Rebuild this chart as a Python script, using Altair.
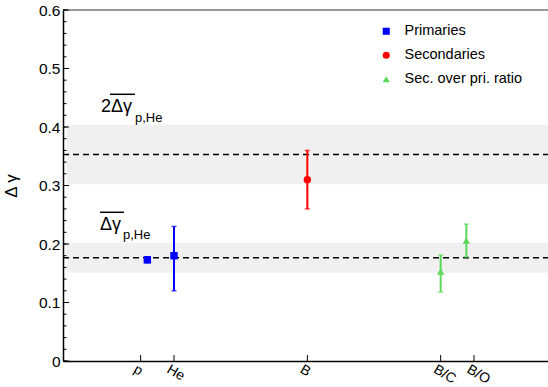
import altair as alt
import pandas as pd

# ---- data ----
categories = ["p", "He", "B", "B/C", "B/O"]
tick_pos = [1, 2, 6, 10, 11]
point_x = [1.2, 2, 6, 10, 10.77]
values = [0.173, 0.180, 0.310, 0.153, 0.206]
err_lo = [0.168, 0.120, 0.260, 0.118, 0.178]
err_hi = [0.178, 0.230, 0.360, 0.181, 0.234]
groups = ["Primaries", "Primaries", "Secondaries",
          "Sec. over pri. ratio", "Sec. over pri. ratio"]

group_names = ["Primaries", "Secondaries", "Sec. over pri. ratio"]
group_colors = ["#0000ff", "#ff0000", "#5cd85c"]
group_shapes = ["square", "circle", "triangle-up"]

band_mid = [0.1766, 0.353]
band_lo = [0.151, 0.302]
band_hi = [0.202, 0.404]
band_x0 = [-1.22, -1.22]
band_x1 = [13.4, 13.4]

y_major = [0, 0.1, 0.2, 0.3, 0.4, 0.5, 0.6]
y_minor = [round(0.02 * i, 2) for i in range(31)]

# annotation labels
main_txt = ["2Δγ", "Δγ"]
main_x = [-0.19, -0.22]
main_y = [0.4256, 0.2239]
sub_txt = ["p,He", "p,He"]
sub_x = [0.83, 0.47]
sub_y = [0.4085, 0.2085]
over_x0 = [0.08, -0.22]
over_x1 = [0.83, 0.50]
over_y = [0.4559, 0.2542]

W, H = 485, 351
FONT = "Liberation Sans"
xs = alt.Scale(domain=[-1.33, 13.22], nice=False, zero=False)
ys = alt.Scale(domain=[0, 0.6], nice=False, zero=False)
col = alt.Scale(domain=group_names, range=group_colors)
shp = alt.Scale(domain=group_names, range=group_shapes)

label_expr = "''"
for p, c in zip(reversed(tick_pos), reversed(categories)):
    label_expr = f"datum.value == {p} ? '{c}' : ({label_expr})"

XAX = alt.Axis(
    values=tick_pos, labelExpr=label_expr, ticks=False, grid=False,
    labelAngle=30, labelAlign="left", labelBaseline="top",
    labelPadding=1, labelOffset=-3, labelFontSize=14, labelFont=FONT,
    labelColor="black", labelOverlap=False,
    domainColor="black", domainWidth=1.5, title=None)
YAX = alt.Axis(
    values=y_major, ticks=False, grid=False,
    labelExpr="datum.value == 0 ? '0' : format(datum.value, '.1f')",
    labelPadding=3, labelFontSize=15.5, labelFont=FONT, labelColor="black",
    domainColor="black", domainWidth=1.5,
    title="Δ γ", titleFont=FONT, titleFontSize=17, titleFontWeight="normal",
    titleColor="black", titlePadding=18)
LEG = alt.Legend(
    title=None, orient="none", legendX=316, legendY=14,
    labelFont=FONT, labelFontSize=14.5, labelColor="black",
    symbolSize=50, symbolStrokeWidth=0, symbolOpacity=1, labelOffset=11,
    rowPadding=9, padding=0)


def X(f):
    return alt.X(f, scale=xs, axis=XAX, title=None)


def Y(f):
    return alt.Y(f, scale=ys, axis=YAX, title="Δ γ")


df = pd.DataFrame({"cat": categories, "px": point_x, "val": values,
                   "lo": err_lo, "hi": err_hi, "grp": groups})
bands = pd.DataFrame({"lo": band_lo, "hi": band_hi, "mid": band_mid,
                      "x0": band_x0, "x1": band_x1})

band_layer = alt.Chart(bands).mark_rect(color="#f0f0f0", clip=True).encode(
    x=X("x0:Q"), x2="x1:Q", y=Y("lo:Q"), y2="hi:Q")

dash_layer = alt.Chart(bands).mark_rule(color="black", strokeDash=[6, 4], strokeWidth=1.5).encode(
    x=alt.value(0), x2=alt.value(W), y=Y("mid:Q"))

frame_top = alt.Chart(pd.DataFrame({"a": [0]})).mark_rule(color="#777777", strokeWidth=1.5).encode(
    x=alt.value(0), x2=alt.value(W), y=alt.value(0))

ymaj = alt.Chart(pd.DataFrame({"v": y_major})).mark_rule(color="black", strokeWidth=1).encode(
    y=Y("v:Q"), x=alt.value(0), x2=alt.value(6))
ymin = alt.Chart(pd.DataFrame({"v": y_minor})).mark_rule(color="black", strokeWidth=1).encode(
    y=Y("v:Q"), x=alt.value(0), x2=alt.value(3.5))
xtk = alt.Chart(pd.DataFrame({"v": tick_pos})).mark_rule(color="black", strokeWidth=1).encode(
    x=X("v:Q"), y=alt.value(H), y2=alt.value(H - 6))

err = alt.Chart(df).mark_rule(strokeWidth=2).encode(
    x=X("px:Q"), y=Y("lo:Q"), y2="hi:Q",
    color=alt.Color("grp:N", scale=col, legend=LEG, sort=group_names),
)
caps = alt.Chart(df).transform_fold(["lo", "hi"], as_=["k", "e"]).mark_tick(
    orient="horizontal", size=5, thickness=1.5).encode(
    x=X("px:Q"), y=Y("e:Q"),
    color=alt.Color("grp:N", scale=col, legend=LEG, sort=group_names),
)
pts = alt.Chart(df).mark_point(filled=True, opacity=1, size=55).encode(
    x=X("px:Q"), y=Y("val:Q"),
    color=alt.Color("grp:N", scale=col, legend=LEG, sort=group_names),
    shape=alt.Shape("grp:N", scale=shp, legend=LEG, sort=group_names),
)

ann = pd.DataFrame({"t": main_txt, "x": main_x, "y": main_y})
sub = pd.DataFrame({"t": sub_txt, "x": sub_x, "y": sub_y})
ovl = pd.DataFrame({"x0": over_x0, "x1": over_x1, "y": over_y})
ann_l = alt.Chart(ann).mark_text(font=FONT, fontSize=18, align="left", baseline="alphabetic", color="black").encode(
    x=X("x:Q"), y=Y("y:Q"), text="t:N")
sub_l = alt.Chart(sub).mark_text(font=FONT, fontSize=13, align="left", baseline="alphabetic", color="black").encode(
    x=X("x:Q"), y=Y("y:Q"), text="t:N")
ovl_l = alt.Chart(ovl).mark_rule(color="black", strokeWidth=1.5).encode(
    x=X("x0:Q"), x2="x1:Q", y=Y("y:Q"))

chart = alt.layer(band_layer, dash_layer, frame_top, ymin, ymaj, xtk,
                  err, caps, pts, ann_l, sub_l, ovl_l).properties(
    width=W, height=H,
    autosize=alt.AutoSizeParams(type="none"),
    padding={"left": 63, "top": 10, "right": 0, "bottom": 26},
    background="white",
).configure_view(stroke=None)

chart.save("out.html", embed_options={"renderer": "svg", "actions": False})
